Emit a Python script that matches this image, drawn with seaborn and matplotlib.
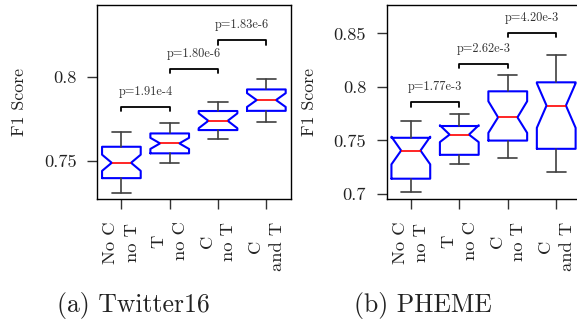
import numpy as np
import matplotlib
matplotlib.use('Agg')
import matplotlib.pyplot as plt
import seaborn as sns

# conditions on the x axis (same for both panels)
groups = ["No C\nno T", "T\nno C", "C\nno T", "C\nand T"]

# Twitter16 box summaries
tw_med = [0.7490, 0.7605, 0.7739, 0.7862]
tw_q1 = [0.7399, 0.7546, 0.7684, 0.7798]
tw_q3 = [0.7585, 0.7664, 0.7797, 0.7925]
tw_lo = [0.7308, 0.7487, 0.7629, 0.7731]
tw_hi = [0.7674, 0.7724, 0.7852, 0.7986]
tw_cilo = [0.7442, 0.7572, 0.7695, 0.7821]
tw_cihi = [0.7538, 0.7638, 0.7783, 0.7903]
tw_bracket = [0.7822, 0.8046, 0.8216]
tw_pvals = ["p=1.91e-4", "p=1.80e-6", "p=1.83e-6"]

# PHEME box summaries
ph_med = [0.7406, 0.7555, 0.7716, 0.7826]
ph_q1 = [0.7143, 0.7366, 0.7499, 0.7422]
ph_q3 = [0.7525, 0.7635, 0.7959, 0.8043]
ph_lo = [0.7020, 0.7282, 0.7338, 0.7207]
ph_hi = [0.7686, 0.7748, 0.8115, 0.8301]
ph_cilo = [0.7277, 0.7485, 0.7571, 0.7618]
ph_cihi = [0.7535, 0.7642, 0.7866, 0.8034]
ph_bracket = [0.7856, 0.8217, 0.8504]
ph_pvals = ["p=1.77e-3", "p=2.62e-3", "p=4.20e-3"]

sns.set_style('ticks')
plt.rcParams['font.family'] = ['cmr10', 'DejaVu Serif']
plt.rcParams['axes.formatter.use_mathtext'] = True


def make_stats(med, q1, q3, lo, hi, cilo, cihi):
    return [dict(med=m, q1=a, q3=b, whislo=l, whishi=h, cilo=c1, cihi=c2, fliers=[])
            for m, a, b, l, h, c1, c2 in zip(med, q1, q3, lo, hi, cilo, cihi)]


def draw_panel(ax, stats, ylim, yticks, ylabels, brackets, pvals):
    pos = np.arange(1, len(groups) + 1)
    ax.bxp(stats, positions=pos, widths=0.8, shownotches=True, showfliers=False,
           boxprops=dict(color='#0000ff', lw=1.5),
           medianprops=dict(color='#ff0000', lw=1.2),
           whiskerprops=dict(color='#404040', lw=1.2),
           capprops=dict(color='#404040', lw=1.2))
    ax.set_xlim(0.5, len(groups) + 0.5)
    ax.set_ylim(*ylim)
    ax.set_xticks(pos)
    ax.set_xticklabels(groups, rotation=90, multialignment='center',
                       linespacing=1.5)
    ax.set_yticks(yticks)
    ax.set_yticklabels(ylabels)
    ax.tick_params(direction='out', length=7.2, width=1, pad=7.5,
                   labelsize=13.3, color='#333333', labelcolor='#222222')
    ax.tick_params(axis='x', pad=9)
    ax.set_ylabel('F1 Score', fontsize=12.8, labelpad=12, color='#222222')
    for sp in ax.spines.values():
        sp.set_color('black')
        sp.set_linewidth(1.0)

    # significance brackets between neighbouring conditions
    leg = 0.023 * (ylim[1] - ylim[0])
    for i, (y, p) in enumerate(zip(brackets, pvals)):
        x1, x2 = pos[i], pos[i + 1]
        ax.plot([x1, x1, x2, x2], [y - leg, y, y, y - leg], color='black', lw=1.3)
        ax.annotate(p, ((x1 + x2) / 2, y), xytext=(0, 10.8), textcoords='offset points',
                    ha='center', va='center', fontsize=8.9, color='#333333')


fig = plt.figure(figsize=(5.77, 3.2), dpi=100)
ax1 = fig.add_axes([0.1685, 0.378, 0.335, 0.606])
ax2 = fig.add_axes([0.670, 0.378, 0.336, 0.606])

draw_panel(ax1, make_stats(tw_med, tw_q1, tw_q3, tw_lo, tw_hi, tw_cilo, tw_cihi),
           (0.7275, 0.8425), [0.75, 0.8], ['0.75', '0.8'], tw_bracket, tw_pvals)
draw_panel(ax2, make_stats(ph_med, ph_q1, ph_q3, ph_lo, ph_hi, ph_cilo, ph_cihi),
           (0.6953, 0.8764), [0.7, 0.75, 0.8, 0.85], ['0.7', '0.75', '0.8', '0.85'],
           ph_bracket, ph_pvals)

fig.text(0.2305, 0.025, '(a) Twitter16', ha='center', va='baseline', fontsize=18.5, color='#222222')
fig.text(0.733, 0.025, '(b) PHEME', ha='center', va='baseline', fontsize=18.5, color='#222222')

fig.savefig('out.png', dpi=100)
plt.close(fig)
